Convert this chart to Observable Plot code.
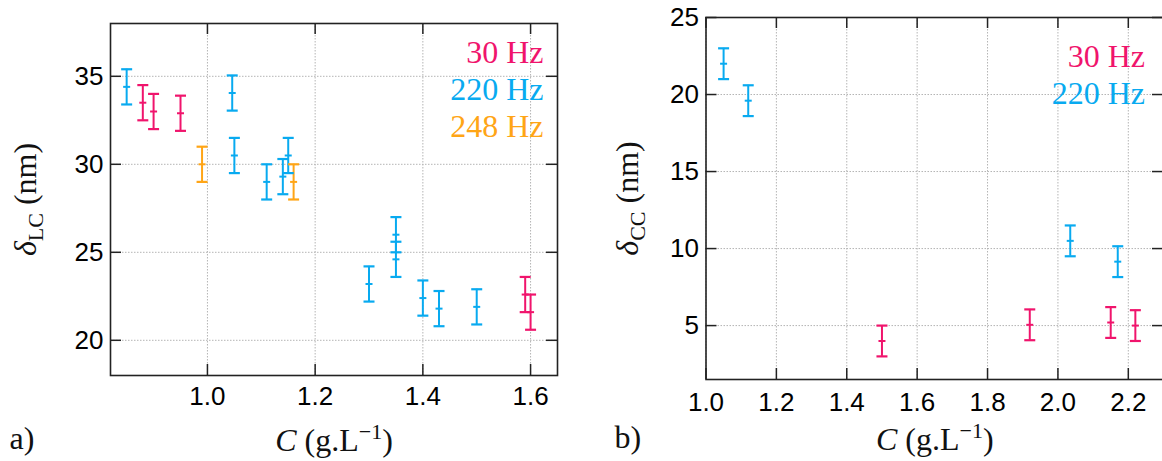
<!DOCTYPE html>
<html><head><meta charset="utf-8">
<script src="https://cdn.jsdelivr.net/npm/d3@7"></script>
<script src="https://cdn.jsdelivr.net/npm/@observablehq/plot@0.6"></script>
<style>
html,body{margin:0;padding:0;background:#fff;overflow:hidden;}
#wrap{position:relative;width:1162px;height:461px;overflow:hidden;background:#fff;}
#wrap svg{position:absolute;top:0;}
</style></head><body><div id="wrap"></div>
<script>
// ---------- panel a) : delta_LC vs C ----------
const a30C  = [0.88, 0.90, 0.95, 1.59, 1.60];
const a30D  = [33.5, 33.0, 32.9, 22.6, 21.6];
const a30E  = [1, 1, 1, 1, 1];
const a220C = [0.85, 1.046, 1.05, 1.11, 1.14, 1.15, 1.30, 1.35, 1.35, 1.40, 1.43, 1.50];
const a220D = [34.4, 34.05, 30.5, 29.0, 29.3, 30.5, 23.2, 26.0, 24.6, 22.4, 21.8, 21.9];
const a220E = [1, 1, 1, 1, 1, 1, 1, 1, 1, 1, 1, 1];
const a248C = [0.99, 1.16];
const a248D = [30.0, 29.0];
const a248E = [1, 1];
const aXTicks = [1.0, 1.2, 1.4, 1.6];
const aYTicks = [20, 25, 30, 35];

// ---------- panel b) : delta_CC vs C ----------
const b30C  = [1.50, 1.92, 2.15, 2.22];
const b30D  = [4.0, 5.05, 5.2, 5.0];
const b30E  = [1, 1, 1, 1];
const b220C = [1.05, 1.12, 2.035, 2.17];
const b220D = [22.0, 19.6, 10.5, 9.15];
const b220E = [1, 1, 1, 1];
const bXTicks = [1.0, 1.2, 1.4, 1.6, 1.8, 2.0, 2.2];
const bYTicks = [5, 10, 15, 20, 25];

const seriesNames  = ["30 Hz", "220 Hz", "248 Hz"];
const seriesColors = ["#f0146c", "#08aaf0", "#ffa516"];

const H = 461;
const serif = "'Liberation Serif', 'Times New Roman', serif";
const sans  = "'Liberation Sans', Arial, sans-serif";

function rows(name, C, D, E) { return C.map((c, i) => ({series: name, C: c, d: D[i], e: E[i]})); }

const capSym = {draw(ctx) { ctx.moveTo(-5.5, 0); ctx.lineTo(5.5, 0); }};
const midSym = {draw(ctx) { ctx.moveTo(-3.5, 0); ctx.lineTo(3.5, 0); }};

function rich(svg, key, parts) {
  d3.select(svg).selectAll("text").filter(function () { return this.textContent === key; }).each(function () {
    const t = d3.select(this); t.text(null);
    parts.forEach(p => {
      const s = t.append("tspan").text(p.t);
      if (p.i) s.attr("font-style", "italic");
      if (p.fs) s.attr("font-size", p.fs);
      if (p.dy) s.attr("dy", p.dy);
    });
  });
}

function panel(cfg) {
  const {left, width, mL, mR, mT, mB, xDomain, yDomain, xTicks, yTicks, data, legend,
         yTitle, tag, yTitleDx, xTitleDy, tagDx, legendDx, legendDy, xPad} = cfg;
  const fw = width - mL - mR, fh = H - mT - mB, tk = 11;
  const axisStroke = {stroke: "#222", strokeWidth: 1.5};
  const svg = Plot.plot({
    width, height: H, marginLeft: mL, marginRight: mR, marginTop: mT, marginBottom: mB,
    style: {fontFamily: sans, fontSize: "26px", background: "transparent", overflow: "visible"},
    x: {domain: xDomain, label: null},
    y: {domain: yDomain, label: null},
    color: {domain: seriesNames, range: seriesColors},
    marks: [
      Plot.gridX(xTicks, {stroke: "#b4b4b4", strokeOpacity: 1, strokeDasharray: "1.5,1.5"}),
      Plot.gridY(yTicks, {stroke: "#b4b4b4", strokeOpacity: 1, strokeDasharray: "1.5,1.5"}),
      Plot.tickY(yTicks, {y: d => d, insetRight: fw - tk, ...axisStroke}),
      Plot.tickY(yTicks, {y: d => d, insetLeft: fw - tk, ...axisStroke}),
      Plot.tickX(xTicks, {x: d => d, insetTop: fh - tk, ...axisStroke}),
      Plot.tickX(xTicks, {x: d => d, insetBottom: fh - tk, ...axisStroke}),
      Plot.frame({stroke: "#222", strokeWidth: 1.6}),
      Plot.axisX(xTicks, {tickSize: 0, tickPadding: xPad, tickFormat: d3.format(".1f"), fontSize: 26, label: null}),
      Plot.axisY(yTicks, {tickSize: 0, tickPadding: 7, fontSize: 26, label: null}),
      Plot.ruleX(data, {x: "C", y1: d => d.d - d.e, y2: d => d.d + d.e, stroke: "series", strokeWidth: 2}),
      Plot.dot(data, {x: "C", y: d => d.d + d.e, symbol: capSym, stroke: "series", strokeWidth: 2.2, fill: "none"}),
      Plot.dot(data, {x: "C", y: d => d.d - d.e, symbol: capSym, stroke: "series", strokeWidth: 2.2, fill: "none"}),
      Plot.dot(data, {x: "C", y: "d", symbol: midSym, stroke: "series", strokeWidth: 2, fill: "none"}),
      ...legend.map((name, i) => Plot.text([name], {
        text: d => d, frameAnchor: "top-right", textAnchor: "end", lineAnchor: "middle",
        dx: legendDx, dy: legendDy + i * 37.2, fill: seriesColors[seriesNames.indexOf(name)],
        fontFamily: serif, fontSize: 32
      })),
      Plot.text([yTitle], {text: d => d, frameAnchor: "left", rotate: -90, textAnchor: "middle",
        lineAnchor: "middle", dx: yTitleDx, fontFamily: serif, fontSize: 32, fill: "#111"}),
      Plot.text(["C (g.L−1)"], {text: d => d, frameAnchor: "bottom", textAnchor: "middle",
        lineAnchor: "middle", dy: xTitleDy, fontFamily: serif, fontSize: 32, fill: "#111"}),
      Plot.text([tag], {text: d => d, frameAnchor: "bottom-left", textAnchor: "start",
        lineAnchor: "middle", dx: tagDx, dy: xTitleDy - 2, fontFamily: serif, fontSize: 32, fill: "#111"})
    ]
  });
  svg.style.left = left + "px";
  rich(svg, yTitle, [{t: "δ", i: 1}, {t: yTitle.slice(1, 3), fs: "22px", dy: 7}, {t: " (nm)", dy: -7}]);
  rich(svg, "C (g.L−1)", [{t: "C", i: 1}, {t: " (g.L"}, {t: "−1", fs: "22px", dy: -12}, {t: ")", dy: 12}]);
  document.getElementById("wrap").appendChild(svg);
}

panel({
  left: 0, width: 580, mL: 110, mR: 23, mT: 23, mB: 86,
  xDomain: [0.82, 1.65], yDomain: [18, 38], xTicks: aXTicks, yTicks: aYTicks,
  data: [...rows("30 Hz", a30C, a30D, a30E), ...rows("220 Hz", a220C, a220D, a220E), ...rows("248 Hz", a248C, a248D, a248E)],
  legend: ["30 Hz", "220 Hz", "248 Hz"],
  yTitle: "δLC (nm)", tag: "a)", yTitleDx: -85, xTitleDy: 65, tagDx: -101,
  legendDx: -14, legendDy: 29, xPad: 11
});

panel({
  left: 580, width: 600, mL: 125.5, mR: 17, mT: 17, mB: 82,
  xDomain: [1.0, 2.3], yDomain: [1.5, 25], xTicks: bXTicks, yTicks: bYTicks,
  data: [...rows("30 Hz", b30C, b30D, b30E), ...rows("220 Hz", b220C, b220D, b220E)],
  legend: ["30 Hz", "220 Hz"],
  yTitle: "δCC (nm)", tag: "b)", yTitleDx: -78.5, xTitleDy: 60, tagDx: -91.5,
  legendDx: -18.5, legendDy: 39, xPad: 13
});
</script>
</body></html>
